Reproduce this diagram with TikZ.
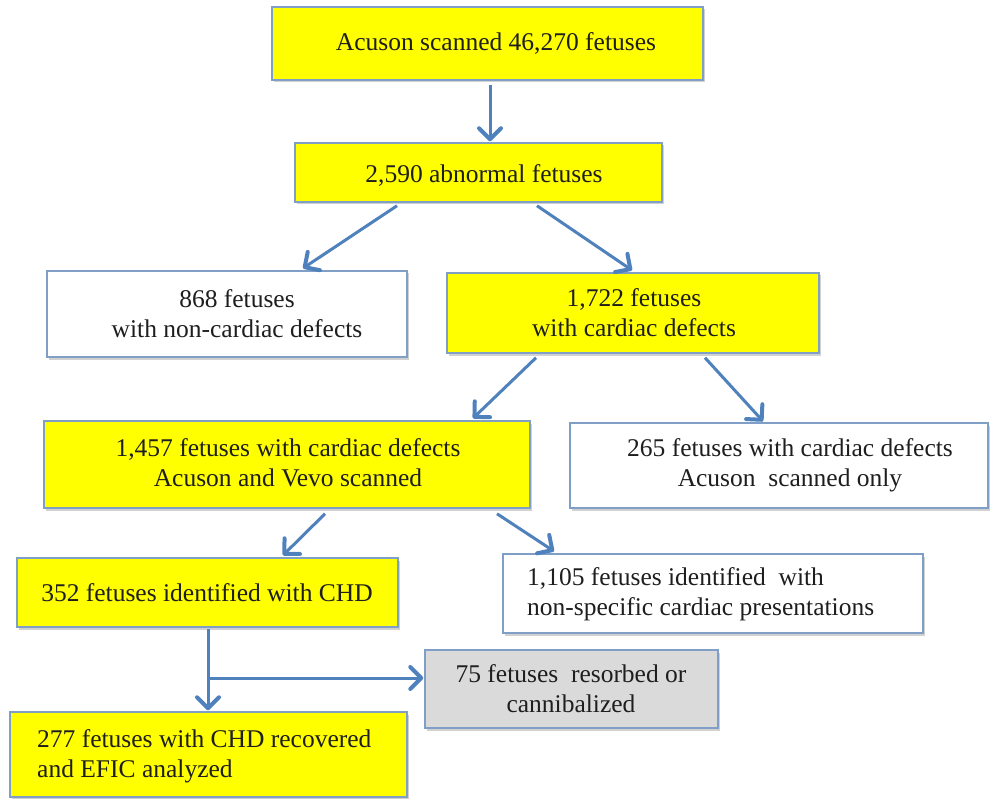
\documentclass[tikz,border=0pt]{standalone}
\usepackage{fontspec}
\setmainfont{Liberation Serif}
\usetikzlibrary{arrows.meta,shadows}
\definecolor{boxyellow}{HTML}{FFFF00}
\definecolor{boxgray}{HTML}{DADADA}
\definecolor{bordc}{HTML}{7F9FC6}
\definecolor{arrc}{HTML}{4F81BD}
\definecolor{txtc}{HTML}{1E1E1E}
\begin{document}
\begin{tikzpicture}[x=1pt,y=1pt,
  boxbase/.style={draw=bordc, line width=1.5pt, inner sep=0pt,
    drop shadow={shadow xshift=2pt, shadow yshift=-2.5pt, fill=black, opacity=0.18}},
  ybox/.style={boxbase, fill=boxyellow},
  wbox/.style={boxbase, fill=white},
  gbox/.style={boxbase, fill=boxgray},
  lbl/.style={text=txtc, font=\fontsize{25.5}{30}\selectfont, align=center, inner sep=0pt},
  lbll/.style={lbl, align=left, anchor=west},
  arr/.style={draw=arrc, line width=3pt, line join=round,
    -{Straight Barb[length=11pt,width=22pt,line width=4pt,round]}},
]
\useasboundingbox (0,0) rectangle (992,-799);
\fill[white] (0,0) rectangle (992,-799);

% boxes
\node[ybox, minimum width=431, minimum height=73] (b1) at (487.5,-43.5) {};
\node[ybox, minimum width=367, minimum height=59] (b2) at (478.5,-172.5) {};
\node[wbox, minimum width=360, minimum height=86] (b3) at (227,-314) {};
\node[ybox, minimum width=372, minimum height=80] (b4) at (633,-313) {};
\node[ybox, minimum width=486, minimum height=87] (b5) at (287,-464.5) {};
\node[wbox, minimum width=418, minimum height=85] (b6) at (779,-465.5) {};
\node[ybox, minimum width=381, minimum height=69] (b7) at (207.5,-592.5) {};
\node[wbox, minimum width=420, minimum height=79] (b8) at (713,-593.5) {};
\node[gbox, minimum width=293, minimum height=78] (b9) at (571.5,-689) {};
\node[ybox, minimum width=397, minimum height=85] (b10) at (208.5,-754.5) {};

% texts
\node[lbl] (t1) at (496,-43) {Acuson scanned 46,270 fetuses};
\node[lbl] (t2) at (484,-175) {2,590 abnormal fetuses};
\node[lbl] (t3) at (237,-314) {868 fetuses\\with non-cardiac defects};
\node[lbl] (t4) at (634,-313) {1,722 fetuses\\with cardiac defects};
\node[lbl] (t5) at (288,-463) {1,457 fetuses with cardiac defects\\Acuson and Vevo scanned};
\node[lbl] (t6) at (790,-465) {265 fetuses with cardiac defects\\Acuson\ \ scanned only};
\node[lbl] (t7) at (207,-593) {352 fetuses identified with CHD};
\node[lbll] (t8) at (527,-594) {1,105 fetuses identified\ \ with\\non-specific cardiac presentations};
\node[lbl] (t9) at (571,-689) {75 fetuses\ \ resorbed or\\cannibalized};
\node[lbll] (t10) at (37,-756) {277 fetuses with CHD recovered\\and EFIC analyzed};

% connectors
\draw[arr] ([xshift=2.5pt,yshift=-4pt]b1.south) -- ([xshift=11.5pt,yshift=1pt]b2.north);
\draw[arr] ([xshift=-81.5pt,yshift=-3pt]b2.south) -- ([xshift=76pt,yshift=2pt]b3.north);
\draw[arr] ([xshift=58.5pt,yshift=-3pt]b2.south) -- ([xshift=-1pt,yshift=2pt]b4.north);
\draw[arr] ([xshift=-97pt,yshift=-4pt]b4.south) -- ([xshift=186pt,yshift=2pt]b5.north);
\draw[arr] ([xshift=72pt,yshift=-4pt]b4.south) -- ([xshift=-16pt,yshift=1pt]b6.north);
\draw[arr] ([xshift=38pt,yshift=-5pt]b5.south) -- ([xshift=75.5pt,yshift=2pt]b7.north);
\draw[arr] ([xshift=210pt,yshift=-5pt]b5.south) -- ([xshift=-159pt,yshift=2pt]b8.north);
\draw[arr] ([xshift=0.5pt,yshift=-1pt]b7.south) -- ([xshift=-0.5pt,yshift=1pt]b10.north);
\coordinate (j) at (208,-678);
\draw[arr] (j) -- ([xshift=-1pt]j -| b9.west);
\end{tikzpicture}
\end{document}
